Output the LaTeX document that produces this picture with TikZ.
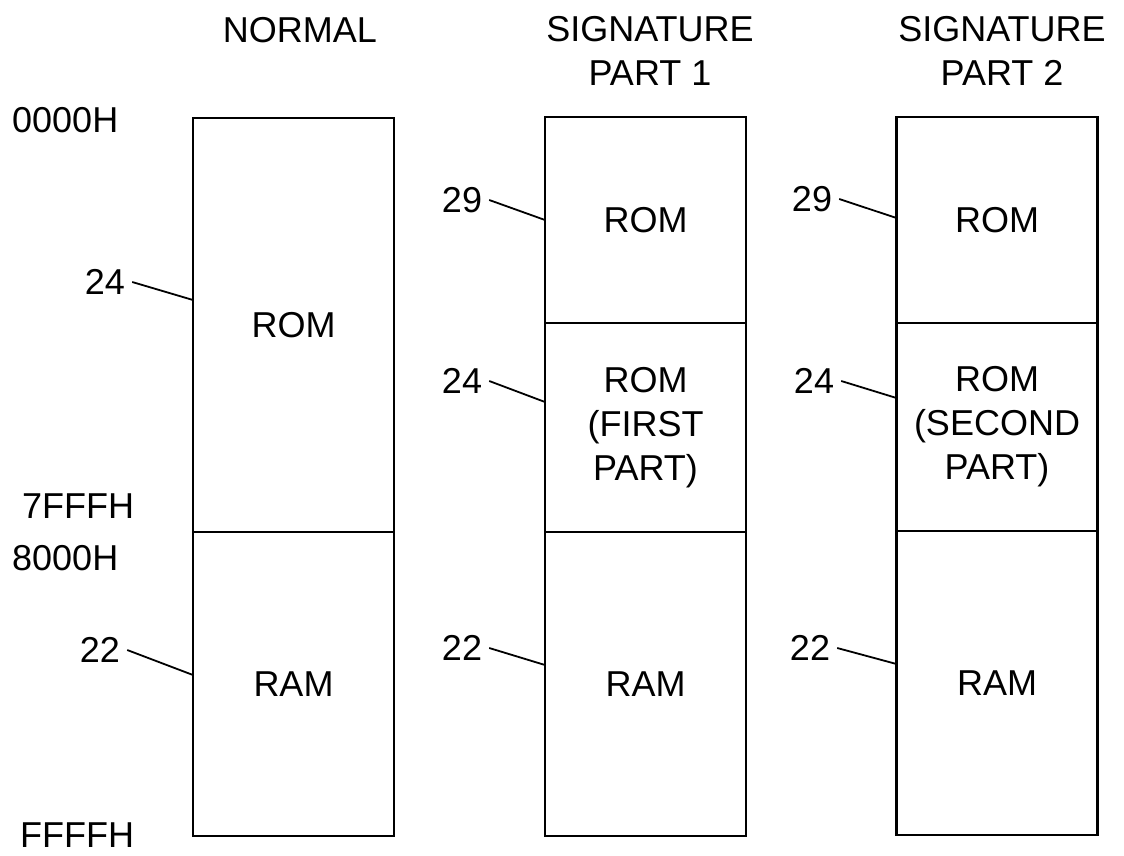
\documentclass[tikz,border=0pt]{standalone}
\usepackage{fontspec}
\setmainfont{Liberation Sans}
\usetikzlibrary{positioning}

\begin{document}
\begin{tikzpicture}[x=1pt,y=-1pt,
  every node/.style={font=\fontsize{36}{44}\selectfont},
  seg/.style={draw,line width=2.6pt,minimum width=201pt,inner sep=0pt,outer sep=0pt,anchor=north,align=center},
  txt/.style={inner sep=0pt},
  lbl/.style={inner xsep=7pt,inner ysep=0pt},
  leader/.style={line width=1.8pt}]
  \useasboundingbox (0,0) rectangle (1124,855);
  % 标题
  \node[txt] (ttl1) at (300,30) {NORMAL};
  \node[txt,align=center] (ttl2) at (650,51) {SIGNATURE\\PART 1};
  \node[txt,align=center] (ttl3) at (1002,51) {SIGNATURE\\PART 2};
  % 地址
  \node[txt,anchor=west] (adr0) at (12,120) {0000H};
  \node[txt,anchor=west] (adr7) at (22,506) {7FFFH};
  \node[txt,anchor=west] (adr8) at (12,558) {8000H};
  \node[txt,anchor=west] (adrF) at (20,835) {FFFFH};
  % 第一列：ROM / RAM
  \node[seg,minimum height=414pt] (rom1) at (293.5,118) {ROM};
  \node[seg,minimum height=304pt,below=0pt of rom1] (ram1) {RAM};
  % 第二列
  \node[seg,minimum height=206pt] (sig2) at (645.5,117) {ROM};
  \node[seg,minimum height=209pt,below=0pt of sig2] (rom2) {ROM\\(FIRST\\PART)};
  \node[seg,minimum height=304pt,below=0pt of rom2] (ram2) {RAM};
  % 第三列
  \node[seg,minimum height=206pt] (sig3) at (997,117) {ROM};
  \node[seg,minimum height=208pt,below=0pt of sig3] (rom3) {ROM\\(SECOND\\PART)};
  \node[seg,minimum height=304pt,below=0pt of rom3] (ram3) {RAM};
  % 引线编号
  \node[lbl] (n24a) at (105,282) {24};
  \node[lbl] (n22a) at (100,650) {22};
  \node[lbl] (n29b) at (462,200) {29};
  \node[lbl] (n24b) at (462,381) {24};
  \node[lbl] (n22b) at (462,648) {22};
  \node[lbl] (n29c) at (812,199) {29};
  \node[lbl] (n24c) at (814,381) {24};
  \node[lbl] (n22c) at (810,648) {22};
  \coordinate (e24a) at (193,300);
  \coordinate (e22a) at (193,675);
  \coordinate (e29b) at (545,220);
  \coordinate (e24b) at (545,402);
  \coordinate (e22b) at (545,665);
  \coordinate (e29c) at (896.5,218);
  \coordinate (e24c) at (896.5,398);
  \coordinate (e22c) at (896.5,664);
  \foreach \k in {24a,22a,29b,24b,22b,29c,24c,22c}
    \draw[leader] (n\k.east) -- (e\k);
\end{tikzpicture}
\end{document}
